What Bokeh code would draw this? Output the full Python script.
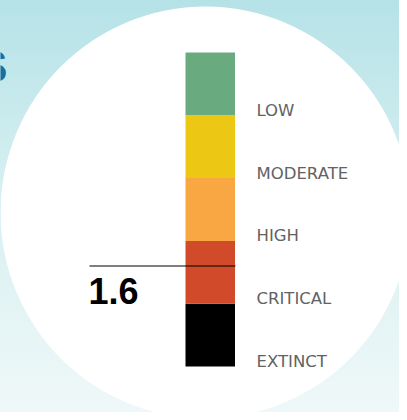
from bokeh.plotting import figure
from bokeh.models import Range1d, ColumnDataSource
from bokeh.core.properties import value
from bokeh.embed import file_html
from bokeh.resources import INLINE

# ---- data ----
levels = ["EXTINCT", "CRITICAL", "HIGH", "MODERATE", "LOW"]
bottoms = [0, 1, 2, 3, 4]
tops = [1, 2, 3, 4, 5]
colors = ["#000000", "#d14b2b", "#f9a742", "#ecc814", "#69aa7e"]
marker_value = 1.6
marker_label = "1.6"

# ---- layout (pixel geometry of the page) ----
W, H = 399, 412
px_per_unit = 62.8
base_px = 366  # screen y of value 0

p = figure(width=W, height=H, output_backend="svg", toolbar_location=None,
           x_range=Range1d(0, W),
           y_range=Range1d(-(H - base_px) / px_per_unit, base_px / px_per_unit),
           min_border=0, min_border_left=0, min_border_right=0,
           min_border_top=0, min_border_bottom=0)
p.axis.visible = False
p.grid.visible = False
p.outline_line_color = None
p.background_fill_alpha = 0
p.border_fill_alpha = 0
p.styles = {"background": "linear-gradient(to bottom, #b5e2e7 0%, #d6eff1 45%, #eff8f8 100%)"}

# white circle
p.ellipse(x=205, y=(base_px - 212) / px_per_unit, width=410, height=412,
          width_units="screen", height_units="screen",
          fill_color="white", line_color=None)

# cut-off title letter (cropped in the original too)
p.text(x=[7], y=[(base_px - 66) / px_per_unit], text=["S"],
       text_font=value("Liberation Sans"), text_font_style="bold",
       text_font_size="45px", text_color="#1d6e99",
       text_align="right", text_baseline="alphabetic")

src = ColumnDataSource(dict(level=levels, bottom=bottoms, top=tops, color=colors))

p.quad(left=185, right=234.5, bottom="bottom", top="top", fill_color="color",
       line_color=None, source=src)

p.text(x=256, y="bottom", text="level", source=src, y_offset=-5,
       text_font=value("DejaVu Sans"), text_font_size="16.5px",
       text_color="#626262", text_align="left", text_baseline="alphabetic")

p.segment(x0=[89], x1=[235], y0=[marker_value], y1=[marker_value],
          line_color="black", line_width=1.1)

p.text(x=[88], y=[marker_value], text=[marker_label], y_offset=25,
       text_font=value("Liberation Sans"), text_font_style="bold",
       text_font_size="36px", text_color="#000000",
       text_align="left", text_baseline="alphabetic")

open("out.html", "w").write(file_html(p, INLINE))
